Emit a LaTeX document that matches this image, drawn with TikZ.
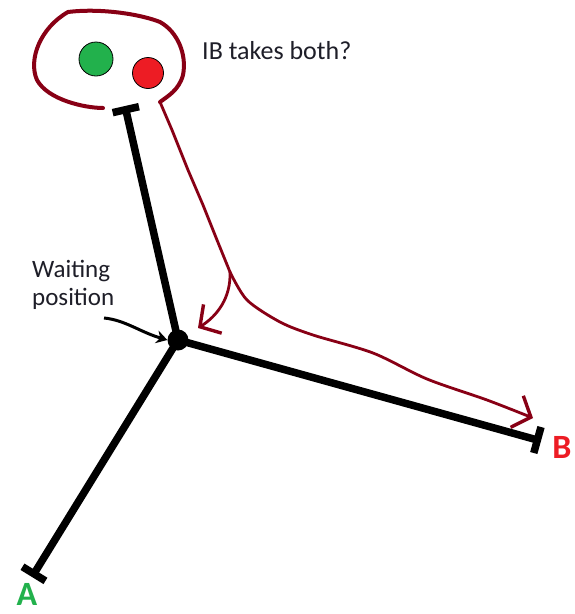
\documentclass[tikz,border=0pt]{standalone}
\usepackage{fontspec}
\setmainfont{Carlito}
\usetikzlibrary{arrows.meta}
\definecolor{maroonred}{HTML}{880015}
\definecolor{paintgreen}{HTML}{22B14C}
\definecolor{paintred}{HTML}{ED1C24}
\definecolor{textgray}{HTML}{1E1E28}
\begin{document}
\begin{tikzpicture}[x=1pt,y=-1pt,
  arm/.style={line width=7.5pt,-{Bar[width=27pt]}},
  loopline/.style={draw=maroonred,line width=4pt,line join=round,line cap=round},
  tail/.style={draw=maroonred,line width=2.8pt,line join=round,line cap=round},
  barb/.style={-{Straight Barb[length=15pt,width=34pt,line width=3.4pt]}},
  dot/.style={circle,draw=black,line width=0.8pt,inner sep=0pt},
  lbl/.style={font=\fontsize{25}{28}\selectfont,text=textgray,inner sep=0pt},
  endlbl/.style={font=\bfseries\fontsize{34}{36}\selectfont,inner sep=0pt,anchor=base}]
\useasboundingbox[fill=white] (0,0) rectangle (575,614);

% hub
\node[circle,fill=black,inner sep=0pt,minimum size=21pt] (hub) at (178,340) {};
\coordinate (topend) at (125,106);
\coordinate (aend) at (32,577);
\coordinate (bend) at (541,441);

\draw[arm] (hub.center) -- (topend);
\draw[arm] (hub.center) -- (aend);
\draw[arm] (hub.center) -- (bend);

% dots
\node[dot,fill=paintgreen,minimum width=34pt,minimum height=33pt] (g) at (96,59) {};
\node[dot,fill=paintred,minimum width=31pt,minimum height=28pt] (r) at (148,73) {};

% loop
\coordinate (loopstart) at (103,108);
\coordinate (loopend) at (160,102);
\coordinate (split) at (230,272);
\draw[loopline] (loopstart) .. controls (85,108) and (48,100) .. (37,80)
  .. controls (28,60) and (40,28) .. (68,12)
  .. controls (100,8) and (140,14) .. (160,22)
  .. controls (178,32) and (187,55) .. (183,75)
  .. controls (179,90) and (168,96) .. (loopend);
\draw[tail] (loopend) -- (172,130) -- (188,170) -- (203,205) -- (217,240) -- (split);
\draw[tail,barb] (split) .. controls (231,298) and (217,316) .. (198,328);
\draw[tail,barb] plot[smooth] coordinates {(230,272) (247,300) (280,322) (313,335) (373,353) (427,379) (487,400) (533,418)};

% labels
\node[lbl,font=\fontsize{26}{30}\selectfont,anchor=base west] (q) at (202,59) {IB takes both?};
\node[lbl,anchor=base west] (w1) at (32,277) {Waiting};
\node[lbl,anchor=base west] (w2) at (32,305) {position};
\draw[line width=3pt,-{Stealth[length=11pt,width=13pt]}] (104,318) .. controls (125,320) and (140,332) .. (hub.west);

\node[endlbl,text=paintgreen] (A) at (27,605) {A};
\node[endlbl,text=paintred] (B) at (562,458) {B};
\end{tikzpicture}
\end{document}
